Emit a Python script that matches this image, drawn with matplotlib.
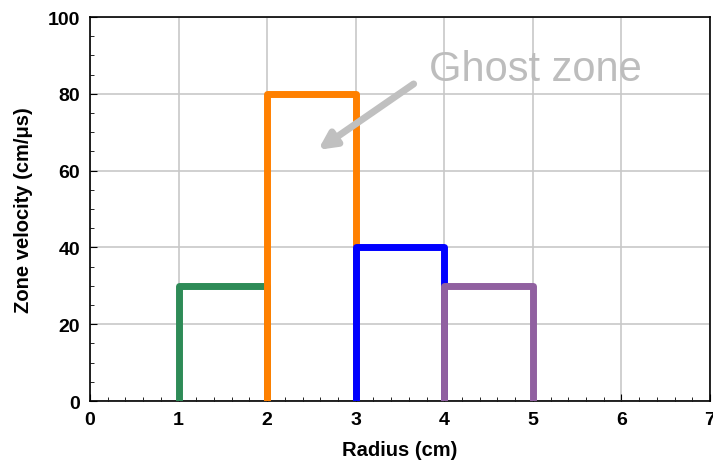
#!/usr/bin/env python
# -*- coding:utf-8 -*-

import matplotlib
matplotlib.use('Agg')
import matplotlib.pyplot as plt
from matplotlib.ticker import MultipleLocator

# zone edges and velocities
zone_left = [1, 2, 3, 4]
zone_right = [2, 3, 4, 5]
zone_velocity = [30, 80, 40, 30]
zone_colors = ['#2e8b57', '#ff8000', '#0000ff', '#9060a0']

plt.rcParams['font.family'] = ['Liberation Sans', 'DejaVu Sans']

fig = plt.figure(figsize=(7.13, 4.64), dpi=100)
ax = fig.add_axes([0.1262, 0.1336, 0.8696, 0.8274])

### each zone drawn as an open box
for x0, x1, v, c in zip(zone_left, zone_right, zone_velocity, zone_colors):
    ax.plot([x0, x0, x1, x1], [0, v, v, 0], color=c, linewidth=5,
            solid_joinstyle='round', solid_capstyle='butt', zorder=3)

ax.set_xlim(0, 7)
ax.set_ylim(0, 100)
ax.xaxis.set_major_locator(MultipleLocator(1))
ax.xaxis.set_minor_locator(MultipleLocator(0.2))
ax.yaxis.set_major_locator(MultipleLocator(20))
ax.yaxis.set_minor_locator(MultipleLocator(5))
ax.tick_params(which='both', direction='in', top=False, right=False)
ax.tick_params(which='major', length=5, labelsize=14, pad=7)
ax.tick_params(which='minor', length=3)
for lab in ax.get_xticklabels() + ax.get_yticklabels():
    lab.set_fontweight('bold')

ax.grid(True, which='major', color='#c8c8c8', linewidth=1.2, zorder=0)
ax.set_axisbelow(True)
for sp in ax.spines.values():
    sp.set_linewidth(1.2)

ax.set_xlabel('Radius (cm)', fontsize=14.5, fontweight='bold', labelpad=9)
ax.set_ylabel('Zone velocity (cm/\u03bcs)', fontsize=14.5, fontweight='bold', labelpad=11)

ax.annotate('', xy=(2.55, 65.0), xytext=(3.68, 83.0),
            arrowprops=dict(arrowstyle='-|>,head_length=1.0,head_width=0.5',
                            color='#c0c0c0', lw=5), zorder=4)
ax.text(5.03, 86.5, 'Ghost zone', color='#bdbdbd', fontsize=30,
        ha='center', va='center', zorder=4)

plt.savefig('out.png', dpi=100)
